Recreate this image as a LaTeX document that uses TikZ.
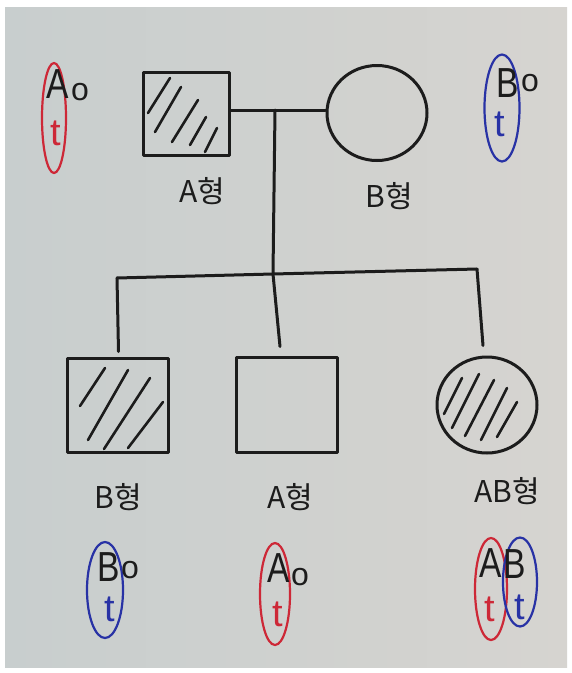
\documentclass[tikz,border=0pt]{standalone}
\usepackage{fontspec}
\usepackage{graphicx}
\setmainfont{Liberation Sans}
\newfontfamily\krfont{Noto Sans CJK KR}
\usetikzlibrary{shapes.geometric}

\definecolor{ink}{RGB}{28,28,28}
\definecolor{penred}{RGB}{205,40,55}
\definecolor{penblue}{RGB}{40,50,165}
\definecolor{paperL}{RGB}{200,206,206}
\definecolor{paperR}{RGB}{214,212,208}

% letters drawn a little narrower than the font gives them
\newcommand{\slim}[1]{\scalebox{0.8}[1]{#1}}

\tikzset{
  pen/.style={draw=ink, line width=3pt, line cap=round, line join=round},
  male/.style={pen, rectangle, inner sep=0pt},
  female/.style={pen, ellipse, inner sep=0pt},
  hatch/.style={draw=ink, line width=2.6pt, line cap=round},
  typelabel/.style={text=ink, font=\krfont\fontsize{30}{30}\selectfont, inner sep=0pt},
  allele/.style={text=ink, font=\fontsize{42}{42}\selectfont, inner sep=0pt},
  smallo/.style={text=ink, font=\fontsize{32}{32}\selectfont, inner sep=0pt},
  redring/.style={draw=penred, line width=2.2pt, ellipse, inner sep=0pt},
  bluering/.style={draw=penblue, line width=2.2pt, ellipse, inner sep=0pt},
  redt/.style={text=penred, font=\fontsize{38}{38}\selectfont, inner sep=0pt},
  bluet/.style={text=penblue, font=\fontsize{38}{38}\selectfont, inner sep=0pt},
}

\begin{document}
\begin{tikzpicture}[x=1pt, y=-1pt]
  % sheet of paper on a white ground
  \fill[white] (0,0) rectangle (572,673);
  \useasboundingbox (0,0) rectangle (572,673);
  \shade[left color=paperL, right color=paperR] (5,7) rectangle (567,667);

  % parents
  \node[male, minimum width=86pt, minimum height=83pt] (father) at (186,113.5) {};
  \node[female, minimum width=100pt, minimum height=95pt] (mother) at (377,113) {};
  \draw[hatch] (170,78) -- (148,113);
  \draw[hatch] (181,87) -- (155,132);
  \draw[hatch] (198,100) -- (172,142);
  \draw[hatch] (206,117) -- (190,145);
  \draw[hatch] (217,128) -- (205,152);

  % children
  \node[male, minimum width=101pt, minimum height=94pt] (son1) at (117.5,405) {};
  \node[male, minimum width=101pt, minimum height=95pt] (son2) at (286.5,404.5) {};
  \node[female, minimum width=100pt, minimum height=96pt] (daughter) at (487,405) {};
  \draw[hatch] (105,368) -- (80,406);
  \draw[hatch] (128,370) -- (88,440);
  \draw[hatch] (150,378) -- (104,449);
  \draw[hatch] (163,402) -- (128,448);
  \draw[hatch] (462,378) -- (444,414);
  \draw[hatch] (479,374) -- (452,428);
  \draw[hatch] (494,380) -- (465,436);
  \draw[hatch] (507,388) -- (481,440);
  \draw[hatch] (517,402) -- (497,437);

  % mating line, descent line and sibship line
  \coordinate (mate) at (275,110);
  \coordinate (sibL) at (117,278);
  \coordinate (sibM) at (273,274);
  \coordinate (sibR) at (477,269);
  \draw[pen] ([yshift=3.5pt]father.east) -- ([yshift=3pt]mother.west);
  \draw[pen] (mate) -- (sibM);
  \draw[pen] (sibL) -- (sibM) -- (sibR);
  \draw[pen] (sibL) -- ([xshift=1pt,yshift=5pt]son1.north);
  \draw[pen] (sibM) -- ([xshift=-6.5pt,yshift=9pt]son2.north);
  \draw[pen] (sibR) -- ([xshift=-4pt,yshift=10pt]daughter.north);

  % blood types
  \node[typelabel] (tf) at (202,191) {A형};
  \node[typelabel] (tm) at (389,196) {B형};
  \node[typelabel] (t1) at (118,497) {B형};
  \node[typelabel] (t2) at (290,497) {A형};
  \node[typelabel] (t3) at (507,491) {AB형};

  % genotypes of the father
  \node[redring, minimum width=24pt, minimum height=110pt] (gf) at (54,118) {};
  \node[allele] (gfA) at (58,84) {\slim{A}};
  \node[smallo] (gfo) at (80,92) {o};
  \node[redt] (gft) at (56,133) {t};

  % genotypes of the mother
  \node[bluering, minimum width=35pt, minimum height=107pt] (gm) at (502,108) {};
  \node[allele] (gmB) at (508,83) {\slim{B}};
  \node[smallo] (gmo) at (530,83) {o};
  \node[bluet] (gmt) at (500,124) {t};

  % genotypes of the first son
  \node[bluering, minimum width=36pt, minimum height=96pt] (g1) at (105,590) {};
  \node[allele] (g1B) at (109,567) {\slim{B}};
  \node[smallo] (g1o) at (130,570) {o};
  \node[bluet] (g1t) at (110,609) {t};

  % genotypes of the second son
  \node[redring, minimum width=30pt, minimum height=102pt] (g2) at (275,594) {};
  \node[allele] (g2A) at (279,568) {\slim{A}};
  \node[smallo] (g2o) at (300,577) {o};
  \node[redt] (g2t) at (278,614) {t};

  % genotypes of the daughter
  \node[redring, minimum width=32pt, minimum height=102pt] (g3r) at (491,589) {};
  \node[bluering, minimum width=34pt, minimum height=89pt] (g3b) at (520,582) {};
  \node[allele] (g3A) at (491,563) {\slim{A}};
  \node[allele] (g3B) at (515,564) {\slim{B}};
  \node[redt] (g3tr) at (490,609) {t};
  \node[bluet] (g3tb) at (520,607) {t};
\end{tikzpicture}
\end{document}
